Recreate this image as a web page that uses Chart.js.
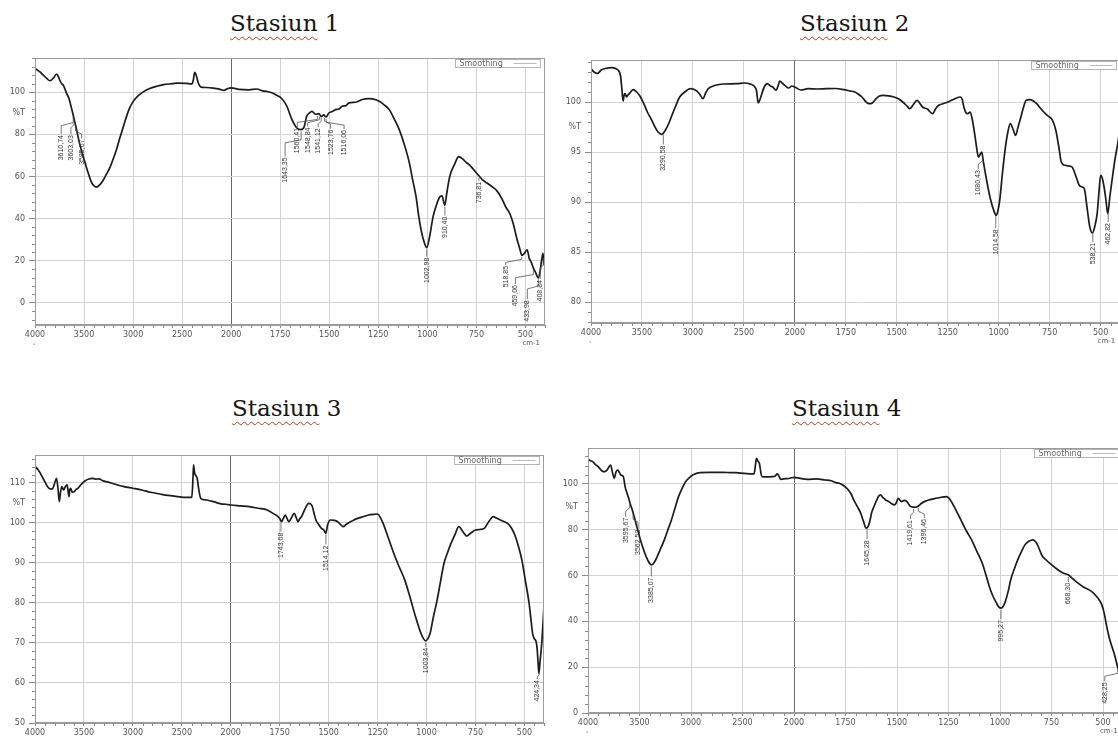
<!DOCTYPE html>
<html><head><meta charset="utf-8">
<script src="https://cdn.jsdelivr.net/npm/chart.js@4.4.1/dist/chart.umd.min.js"></script>
<style>
html,body{margin:0;padding:0;background:#fff;overflow:hidden;width:1118px;height:738px;position:relative;}
.title{position:absolute;font-family:'DejaVu Serif',serif;font-size:23px;color:#151515;white-space:nowrap;line-height:1;}
.title .w{text-decoration:underline wavy #c0392b;text-decoration-thickness:1px;text-underline-offset:5px;}
canvas{position:absolute;}
</style></head><body>
<div class="title" style="left:230px;top:12px"><span class="w">Stasiun</span> 1</div>
<div class="title" style="left:800px;top:12px"><span class="w">Stasiun</span> 2</div>
<div class="title" style="left:232px;top:397px"><span class="w">Stasiun</span> 3</div>
<div class="title" style="left:792px;top:397px"><span class="w">Stasiun</span> 4</div>
<canvas id="c1" width="560" height="302" style="left:0px;top:48px"></canvas>
<canvas id="c2" width="570" height="300" style="left:556px;top:50px"></canvas>
<canvas id="c3" width="560" height="293" style="left:0px;top:445px"></canvas>
<canvas id="c4" width="575" height="300" style="left:553px;top:438px"></canvas>
<script>
// ---------- data ----------
const xTickLabels = [4000,3500,3000,2500,2000,1750,1500,1250,1000,750,500];

const s1Wave = [4000,3950,3916,3880,3848,3810,3780,3760,3745,3729,3710,3695,3678,3655,3628,3610,3594,3571,3550,3527,3500,3476,3450,3425,3400,3374,3340,3307,3270,3240,3205,3171,3140,3104,3070,3036,3000,2950,2900,2836,2760,2690,2600,2544,2460,2400,2385,2372,2360,2350,2335,2308,2250,2181,2120,2073,2040,2000,1960,1909,1870,1840,1817,1790,1770,1750,1730,1716,1690,1665,1645,1628,1615,1600,1588,1570,1553,1540,1528,1516,1502,1485,1468,1450,1434,1415,1399,1365,1331,1300,1280,1245,1220,1194,1170,1143,1115,1091,1075,1057,1045,1031,1015,1003,988,971,955,937,925,911,900,886,860,840,820,800,784,760,737,720,690,665,647,620,600,579,560,545,528,518,505,491,480,472,459,446,435,425,417,410,405,400];
const s1T = [111.3,109.6,108.1,106.5,105.4,106.8,108.6,107.2,105.4,104.1,103.2,101.5,99.4,97.2,92.4,89,85.9,81.1,76.5,72.4,68.2,64.4,60.6,57.3,55.6,54.9,56,58.1,61.2,63.8,68,72.4,77.5,82.9,88,92.4,95.5,98.2,100,101.6,102.8,103.6,104,104.3,104.2,103.9,106,109.4,108.5,107,104.3,102.4,102.2,101.9,101.4,100.8,101.6,102,101.3,101.1,101.5,100.6,100.3,99.6,98.6,97.6,95.5,93.3,87,83,82.2,83.5,88.5,90.2,90.9,89.5,89.8,88.4,89.2,88.2,90.1,90.8,91.7,92,93.3,93.6,94.9,95.2,96.5,96.9,96.8,95.7,94,91.7,87.5,82.2,74.5,66.2,58.5,50.2,42,34.3,28.5,26.2,31.5,40.7,46,50.2,50.8,46.3,52.5,59.8,66,69.4,68.3,66.5,65.4,62.8,60.3,58.5,56.5,54.8,53.4,49.5,45.5,42.3,37,31,25.5,22.5,23.5,25.2,21,19.7,16.5,14,11.8,15,20.5,23.5,18,22];
const s1Peaks = [3610.74,3603.03,3585.67,1643.35,1560.41,1548.84,1541.12,1523.76,1516.06,1002.98,910.40,736.81,518.85,459.06,433.98,408.84];

const s2Wave = [4000,3970,3937,3900,3867,3797,3750,3727,3710,3699,3685,3675,3664,3652,3640,3610,3587,3552,3520,3482,3447,3412,3377,3342,3306,3271,3235,3200,3165,3130,3080,3025,2972,2935,2902,2875,2849,2779,2700,2569,2500,2430,2400,2377,2359,2340,2324,2300,2271,2240,2218,2183,2165,2148,2125,2099,2060,2030,2000,1970,1934,1890,1846,1800,1759,1730,1706,1690,1671,1650,1636,1620,1601,1585,1566,1540,1514,1490,1471,1450,1436,1420,1401,1388,1374,1350,1324,1310,1294,1270,1250,1215,1188,1178,1171,1160,1153,1140,1130,1118,1108,1100,1090,1083,1075,1065,1052,1039,1025,1012,1003,995,982,969,955,943,930,917,905,891,878,865,848,830,814,796,779,758,736,720,705,693,675,655,640,620,605,590,580,565,553,540,528,517,508,500,492,483,474,465,455,444,430,416,400];
const s2T = [103.33,103.0,102.85,103.2,103.33,103.43,103.3,103.1,102.6,101.5,100.1,100.7,100.83,100.5,100.67,101.0,101.23,101.0,100.6,99.83,99.0,98.33,97.6,97.0,96.77,97.17,97.9,98.83,99.7,100.5,101.0,101.33,101.17,100.8,100.33,100.9,101.33,101.67,101.8,101.83,101.9,101.77,101.6,101.17,99.9,100.3,100.83,101.5,101.83,101.6,101.5,101.17,101.6,102.1,101.9,101.67,101.4,101.6,101.5,101.2,101.33,101.3,101.33,101.35,101.23,101.1,101.0,100.8,100.5,100.0,99.83,99.9,100.33,100.6,100.67,100.62,100.5,100.3,100.0,99.6,99.33,99.7,100.17,99.9,99.5,99.3,98.83,99.3,99.67,99.85,100,100.33,100.5,100.2,99.5,98.9,98.83,99.0,98.3,96.83,95.4,94.5,94.8,95.0,94.0,92.83,91.4,90.17,89.2,88.67,89.2,90.17,92.8,95.17,97.0,97.83,97.3,96.67,97.5,98.5,99.5,100.17,100.23,100.1,99.83,99.4,99.0,98.6,98.17,97.2,95.5,94.0,93.67,93.6,93.5,92.5,91.67,91.5,91.33,89.2,87.5,86.9,87.6,88.83,91,92.67,92.4,91.5,90.2,88.83,90.5,92.17,94.2,95.83,98];
const s2Peaks = [3290.58,1080.43,1014.58,538.21,462.82];

const s3Wave = [4000,3970,3945,3909,3872,3840,3818,3800,3781,3765,3752,3740,3726,3708,3690,3672,3660,3653,3645,3635,3620,3599,3580,3562,3530,3490,3450,3417,3380,3344,3310,3272,3180,3091,3000,2909,2820,2726,2640,2544,2460,2398,2388,2380,2370,2362,2350,2343,2325,2307,2250,2200,2176,2100,2050,2000,1950,1905,1860,1814,1780,1760,1750,1741,1732,1722,1712,1704,1690,1676,1665,1657,1648,1639,1620,1602,1590,1583,1575,1565,1550,1537,1525,1515,1505,1491,1470,1454,1440,1426,1410,1389,1370,1352,1325,1296,1270,1250,1235,1222,1195,1167,1140,1111,1085,1056,1040,1028,1015,1004,994,982,965,946,928,911,893,875,855,835,815,795,772,750,728,705,683,659,641,623,605,586,568,549,530,513,495,476,467,458,449,440,435,431,426,420,413,406,400];
const s3T = [114.0,113.3,112.33,110.67,109.0,108.4,108.58,109.8,111.08,108.5,105.25,107.5,109.0,108.17,109.0,109.42,107.5,106.5,108.2,108.58,107.6,107.75,108.3,108.58,109.5,110.42,110.9,111.08,110.9,110.92,110.5,110.25,109.6,109.0,108.6,108.17,107.6,107.17,106.8,106.5,106.3,106.33,110,114.42,112.5,111.92,111.5,111.08,108,106.08,105.67,105.4,105.25,104.7,104.6,104.42,104.2,104.0,103.6,103.17,102.2,101.6,101.08,100.25,101.0,101.92,101.0,100.25,101.2,102.33,101.2,100.25,101.0,101.5,103.5,104.83,104.6,104.0,102.4,100.67,99.5,98.58,98.2,97.33,99.5,100.67,100.6,100.25,99.6,99.0,99.6,100.25,100.7,101.08,101.5,101.92,102.1,102.17,101.2,99.83,96.2,92.33,89.0,85.67,81.5,76.5,74.0,72.33,71.0,70.5,71.0,72.33,76.5,80.67,85.5,89.83,92.5,94.83,97.0,99.0,97.8,96.67,97.5,98.17,98.3,98.58,100.2,101.5,101.1,100.67,100.3,99.83,98.8,96.92,94.0,90.67,85.5,79.83,76,72.33,71.0,70.25,68.5,65.67,62.33,65.5,69.0,74,79.42];
const s3Peaks = [1743.68,1514.12,1003.84,424.34];

const s4Wave = [4000,3980,3955,3930,3902,3875,3850,3830,3815,3800,3780,3765,3745,3735,3727,3710,3695,3682,3657,3640,3622,3605,3588,3570,3552,3535,3518,3500,3475,3448,3430,3413,3395,3379,3355,3328,3295,3259,3225,3190,3155,3121,3085,3052,3015,2983,2913,2820,2738,2650,2563,2480,2388,2375,2365,2350,2336,2320,2311,2260,2213,2185,2161,2145,2128,2080,2040,2000,1970,1934,1890,1849,1820,1797,1780,1764,1750,1736,1722,1710,1693,1676,1662,1650,1640,1630,1624,1610,1598,1590,1581,1568,1555,1540,1529,1512,1500,1495,1478,1465,1452,1442,1434,1420,1408,1396,1381,1365,1346,1311,1285,1259,1241,1215,1190,1165,1138,1112,1086,1068,1052,1035,1017,1005,995,985,974,960,948,931,914,896,879,860,840,825,815,800,793,776,759,733,707,688,669,645,621,595,556,531,506,494,482,470,457,442,430,420];
const s4T = [110.76,110.2,109.74,108.6,107.56,106.2,105.38,105.5,106.1,107.2,108.28,105.5,102.47,104.0,105.38,106.1,105.0,103.92,103.2,98.84,96.0,93.75,91.0,88.66,85.8,82.85,80.0,77.03,73.2,69.77,67.7,66.13,65.0,64.68,65.9,68.31,71.8,75.58,79.9,84.3,89.5,94.48,98.2,101.02,102.8,103.92,104.94,105.1,105.09,105.0,104.94,104.6,104.36,108,111.19,110,109.0,104.5,103.2,103.1,103.2,103.4,104.36,103.3,102.03,102.3,102.5,102.91,102.4,102.03,102.2,101.74,101.4,100.58,100.3,99.56,98.6,97.38,95.5,93.02,90.2,87.21,83.5,80.67,81.5,84.5,87.21,90.5,93.02,94.5,95.2,94.0,93.02,92.3,91.57,90.84,92.5,93.75,92.3,92.8,92.3,91.0,90.12,89.9,89.83,90.4,91.57,92.4,93.02,93.75,94.2,94.48,93.02,88.8,84.3,79.8,75.58,70.5,65.41,60.2,55.23,51.2,47.97,46.2,45.78,46.5,48.69,53.2,58.14,62.8,66.86,70.4,73.4,75.0,75.6,74.5,72.8,69.5,68.31,66.8,65.41,63.5,61.77,60.9,60.32,58.5,56.69,55.0,53.1,50.9,47.3,43.5,37.8,33,29.1,24.8,20.4,17.5];
const s4Peaks = [3595.67,3562.52,3385.07,1645.28,1419.61,1396.46,995.27,668.30,428.25];

// ---------- annotation layout (pixel offsets of peak label columns) ----------
const s1LabelDx = [-12,-3,6,-16,-20,-12,-3,6,18,0,0,0,-16,-18,-11,-3];
const s1LabelDy = [20,17,14,28,14,13,12,14,13,10,12,6,11,17,23,24];
const s2LabelDx = [0,-4,0,0,0];
const s2LabelDy = [13,15,15,11,13];
const s3LabelDx = [0,0,0,-2];
const s3LabelDy = [12,13,7,10];
const s4LabelDx = [-4,5,0,0,-3,6,0,0,-13];
const s4LabelDy = [16,17,13,13,13,13,12,8,15];

// piecewise wavenumber axis (scale changes at 2000 cm-1)
function waveToU(w){ return w >= 2000 ? (4000 - w) / 500 : 4 + (2000 - w) / 250; }
function interpT(us, ts, u){
  for (let i = 1; i < us.length; i++){
    if (u <= us[i]){ const f = (u - us[i-1]) / (us[i] - us[i-1]); return ts[i-1] + f * (ts[i] - ts[i-1]); }
  }
  return ts[ts.length-1];
}
function fmtWave(w){ return w.toFixed(2).replace('.', ','); }

const decor = {
  id: 'decor',
  afterDraw(chart, args, o){
    const {ctx, chartArea: a, scales: {x, y}} = chart;
    ctx.save();
    // frame
    ctx.strokeStyle = '#9c9c9c'; ctx.lineWidth = 1;
    ctx.strokeRect(Math.round(a.left) + 0.5, Math.round(a.top) + 0.5, Math.round(a.right - a.left) - 1, Math.round(a.bottom - a.top) - 1);
    // minor ticks
    ctx.strokeStyle = '#8a8a8a';
    ctx.beginPath();
    for (let k = 1; k * 0.2 <= x.max + 1e-9; k++){
      const u = k * 0.2; if (Math.abs(u - Math.round(u)) < 1e-6) continue;
      const px = Math.round(x.getPixelForValue(u)) + 0.5;
      ctx.moveTo(px, a.bottom); ctx.lineTo(px, a.bottom + 3);
    }
    const st = o.yMinor;
    for (let v = Math.ceil(y.min / st) * st; v <= y.max + 1e-9; v += st){
      if (Math.abs(v / o.yMajor - Math.round(v / o.yMajor)) < 1e-6) continue;
      const py = Math.round(y.getPixelForValue(v)) + 0.5;
      ctx.moveTo(a.left - 3, py); ctx.lineTo(a.left, py);
    }
    ctx.stroke();
    // %T label
    ctx.fillStyle = '#555'; ctx.font = '8px "DejaVu Sans"';
    ctx.textAlign = 'right'; ctx.textBaseline = 'middle';
    ctx.fillText('%T', a.left - 10, y.getPixelForValue(o.pctT));
    // unit
    ctx.textAlign = 'left'; ctx.font = '7px "DejaVu Sans"';
    ctx.fillText('cm-1', x.getPixelForValue(10) - 3, a.bottom + 18);
    ctx.fillText('-', a.left - 2, a.bottom + 19);
    // legend box
    const lw = 85, lh = 8, lx = Math.round(a.right - 5 - lw) + 0.5, ly = Math.round(a.top) + 1.5;
    ctx.fillStyle = '#fff'; ctx.fillRect(lx, ly, lw, lh);
    ctx.strokeStyle = '#b5b5b5'; ctx.strokeRect(lx, ly, lw, lh);
    ctx.fillStyle = '#666'; ctx.font = '8px "DejaVu Sans"'; ctx.textBaseline = 'middle';
    ctx.fillText('Smoothing', lx + 4, ly + lh / 2 + 0.5);
    ctx.strokeStyle = '#bbb'; ctx.beginPath(); ctx.moveTo(lx + lw - 27, ly + lh / 2); ctx.lineTo(lx + lw - 4, ly + lh / 2); ctx.stroke();
    // peak labels
    ctx.strokeStyle = '#555'; ctx.lineWidth = 0.8; ctx.fillStyle = '#333';
    ctx.font = '7px "Liberation Sans"';
    o.peaks.forEach((w, i) => {
      const u = waveToU(w);
      const px = x.getPixelForValue(u);
      const py = y.getPixelForValue(interpT(o.us, o.ts, u));
      const tx = px + o.dx[i], ty = py + o.dy[i];
      ctx.beginPath();
      ctx.moveTo(px, py + 2);
      if (Math.abs(o.dx[i]) > 1){
        const m = py + 2 + (ty - py - 4) * 0.35;
        ctx.lineTo(px, m); ctx.lineTo(tx, m + 3);
      }
      ctx.lineTo(tx, ty - 1);
      ctx.stroke();
      ctx.save(); ctx.translate(tx, ty); ctx.rotate(-Math.PI / 2);
      ctx.textAlign = 'right'; ctx.textBaseline = 'middle';
      ctx.fillText(fmtWave(w), 0, 0);
      ctx.restore();
    });
    ctx.restore();
  }
};

const panels = [
  {id:'c1', wave:s1Wave, t:s1T, peaks:s1Peaks, dx:s1LabelDx, dy:s1LabelDy, yMin:-10.5, yMax:116.2, yMajor:20, yMinor:4, pctT:90, padT:10, padR:15, xH:25},
  {id:'c2', wave:s2Wave, t:s2T, peaks:s2Peaks, dx:s2LabelDx, dy:s2LabelDy, yMin:77.9, yMax:104.2, yMajor:5, yMinor:1, pctT:97.5, padT:10, padR:5, xH:27},
  {id:'c3', wave:s3Wave, t:s3T, peaks:s3Peaks, dx:s3LabelDx, dy:s3LabelDy, yMin:50, yMax:116.9, yMajor:10, yMinor:2, pctT:105, padT:10, padR:16, xH:15},
  {id:'c4', wave:s4Wave, t:s4T, peaks:s4Peaks, dx:s4LabelDx, dy:s4LabelDy, yMin:0, yMax:115.7, yMajor:20, yMinor:4, pctT:90, padT:10, padR:4.4, xH:25}
];

const tickFont = {family:'DejaVu Sans', size:8};
panels.forEach(p => {
  const us = p.wave.map(waveToU);
  const pts = us.map((u, i) => ({x: u, y: p.t[i]}));
  new Chart(document.getElementById(p.id), {
    type: 'line',
    data: {datasets: [{data: pts, borderColor: '#1b1b1b', borderWidth: 1.7, pointRadius: 0, fill: false, cubicInterpolationMode: 'monotone'}]},
    options: {
      responsive: false, animation: false, events: [],
      layout: {padding: {left: 0, right: p.padR, top: p.padT, bottom: 0}},
      plugins: {
        legend: {display: false}, tooltip: {enabled: false},
        decor: {peaks: p.peaks, dx: p.dx, dy: p.dy, us: us, ts: p.t, yMinor: p.yMinor, yMajor: p.yMajor, pctT: p.pctT}
      },
      scales: {
        x: {
          type: 'linear', min: 0, max: 10.4,
          afterFit: s => { s.height = p.xH; },
          ticks: {stepSize: 1, includeBounds: false, autoSkip: false, maxRotation: 0, color: '#555', font: tickFont, padding: 2,
            callback: v => { const r = Math.round(v); return Math.abs(v - r) < 1e-6 && xTickLabels[r] !== undefined ? String(xTickLabels[r]) : ''; }},
          grid: {color: c => (c.tick && Math.abs(c.tick.value - 4) < 1e-6) ? '#6a6a6a' : '#d3d3d3', lineWidth: 1, tickLength: 3, tickColor: '#8a8a8a'},
          border: {display: true, color: '#9c9c9c'}
        },
        y: {
          type: 'linear', min: p.yMin, max: p.yMax,
          afterFit: s => { s.width = 35; },
          ticks: {stepSize: p.yMajor, includeBounds: false, autoSkip: false, color: '#555', font: tickFont, padding: 4,
            callback: v => String(Math.round(v))},
          grid: {color: '#d3d3d3', lineWidth: 1, tickLength: 6, tickColor: '#8a8a8a'},
          border: {display: true, color: '#9c9c9c'}
        }
      }
    },
    plugins: [decor]
  });
});
</script>
</body></html>
